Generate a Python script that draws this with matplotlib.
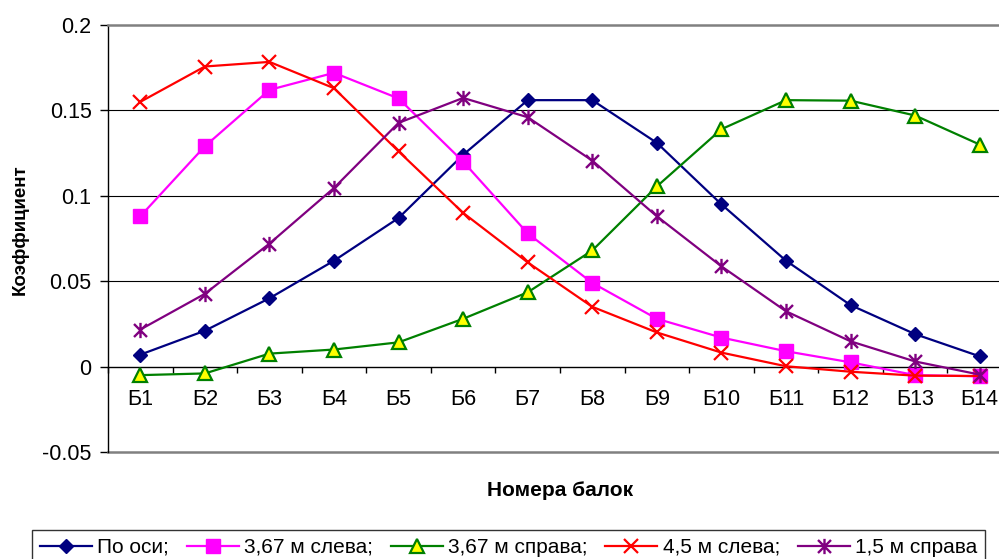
import matplotlib
matplotlib.use("Agg")
import matplotlib.pyplot as plt
from matplotlib.path import Path
from matplotlib.ticker import FixedLocator, FixedFormatter, MultipleLocator

plt.rcParams['font.family'] = ['Liberation Sans', 'DejaVu Sans']

# Beam numbers along the category axis
categories = ['Б1', 'Б2', 'Б3', 'Б4', 'Б5', 'Б6', 'Б7', 'Б8', 'Б9', 'Б10', 'Б11', 'Б12', 'Б13', 'Б14']

# Distribution coefficients for each load position
po_osi = [0.007, 0.021, 0.040, 0.062, 0.087, 0.124, 0.156, 0.156, 0.131, 0.095, 0.062, 0.036, 0.019, 0.006]
sleva_367 = [0.088, 0.129, 0.162, 0.172, 0.157, 0.120, 0.078, 0.049, 0.028, 0.017, 0.009, 0.0025, -0.005, -0.0057]
sprava_367 = [-0.005, -0.004, 0.0076, 0.010, 0.0142, 0.028, 0.0435, 0.068, 0.1055, 0.139, 0.156, 0.1557, 0.147, 0.130]
sleva_45 = [0.155, 0.1757, 0.1784, 0.163, 0.126, 0.090, 0.061, 0.035, 0.020, 0.0082, 0.0002, -0.003, -0.0053, -0.0055]
sprava_15 = [0.0217, 0.0426, 0.072, 0.1046, 0.1427, 0.1573, 0.146, 0.1206, 0.088, 0.0587, 0.0324, 0.0148, 0.003, -0.0047]

series_labels = ['По оси;', '3,67 м слева;', '3,67 м справа;', '4,5 м слева;', '1,5 м справа']

y_ticks = [-0.05, 0.0, 0.05, 0.1, 0.15, 0.2]
y_tick_labels = ['-0.05', '0', '0.05', '0.1', '0.15', '0.2']

x_title = 'Номера балок'
y_title = 'Коэффициент'

# Star marker: vertical stroke plus a diagonal cross
d = 0.85
star = Path([(0, -1), (0, 1), (-d, -d), (d, d), (-d, d), (d, -d)],
            [Path.MOVETO, Path.LINETO, Path.MOVETO, Path.LINETO, Path.MOVETO, Path.LINETO])

styles = [
    dict(color='#000080', marker='D', markersize=7, markerfacecolor='#000080', markeredgecolor='#000080'),
    dict(color='#FF00FF', marker='s', markersize=9.5, markerfacecolor='#FF00FF', markeredgecolor='#FF00FF'),
    dict(color='#008000', marker='^', markersize=10, markerfacecolor='#FFFF00', markeredgecolor='#008000', markeredgewidth=1.6),
    dict(color='#FF0000', marker='x', markersize=10, markeredgewidth=1.6),
    dict(color='#800080', marker=star, markersize=11, markeredgewidth=1.7),
]

W, H = 999, 559
fig = plt.figure(figsize=(W / 100, H / 100), dpi=100)
ax = fig.add_axes([108 / W, 1 - 452 / H, (1012 - 108) / W, (452 - 25) / H])

x = list(range(1, len(categories) + 1))
handles = []
for vals, st, lab in zip([po_osi, sleva_367, sprava_367, sleva_45, sprava_15], styles, series_labels):
    ln, = ax.plot(x, vals, linewidth=1.6, label=lab, clip_on=False, zorder=3, **st)
    handles.append(ln)

ax.set_xlim(0.5, len(categories) + 0.5)
ax.set_ylim(-0.05, 0.2)

# Horizontal gridlines
for yv in [0.05, 0.1, 0.15]:
    ax.axhline(yv, color='black', linewidth=0.8, zorder=1)

# Plot-area border in grey, value axis in black, category axis crossing at zero
for s in ['top', 'right']:
    ax.spines[s].set_color('#808080')
    ax.spines[s].set_linewidth(1.8)
ax.spines['left'].set_color('black')
ax.spines['left'].set_linewidth(1.0)
ax.spines['bottom'].set_position(('data', 0))
ax.spines['bottom'].set_color('black')
ax.spines['bottom'].set_linewidth(1.0)
ax.axhline(-0.05, color='#808080', linewidth=1.8, clip_on=False, zorder=2)

ax.yaxis.set_major_locator(FixedLocator(y_ticks))
ax.yaxis.set_major_formatter(FixedFormatter(y_tick_labels))
ax.tick_params(axis='y', direction='out', length=5.8, width=1, pad=6, labelsize=15.5, colors='black')

ax.set_xticks(x)
ax.set_xticklabels(categories)
ax.xaxis.set_minor_locator(MultipleLocator(1, offset=0.5))
ax.tick_params(axis='x', which='major', length=0, pad=16, labelsize=15.5)
ax.tick_params(axis='x', which='minor', direction='out', length=4, width=1, color='black')

fig.text(560 / W, 1 - 491 / H, x_title, ha='center', va='center', fontsize=15, fontweight='bold')
fig.text(20 / W, 1 - 230 / H, y_title, ha='center', va='center', rotation=90, fontsize=13.5, fontweight='bold')

leg = fig.legend(handles=handles, labels=series_labels, ncol=5, loc='upper left',
                 bbox_to_anchor=(32 / W, 1 - 530 / H, (985 - 32) / W, 0),
                 mode='expand', borderaxespad=0, frameon=True, fancybox=False,
                 edgecolor='black', fontsize=15, handlelength=2.5, handletextpad=0.25,
                 columnspacing=0.6, borderpad=0.38, numpoints=1)
leg.get_frame().set_linewidth(1.0)

fig.savefig('out.png', dpi=100)
